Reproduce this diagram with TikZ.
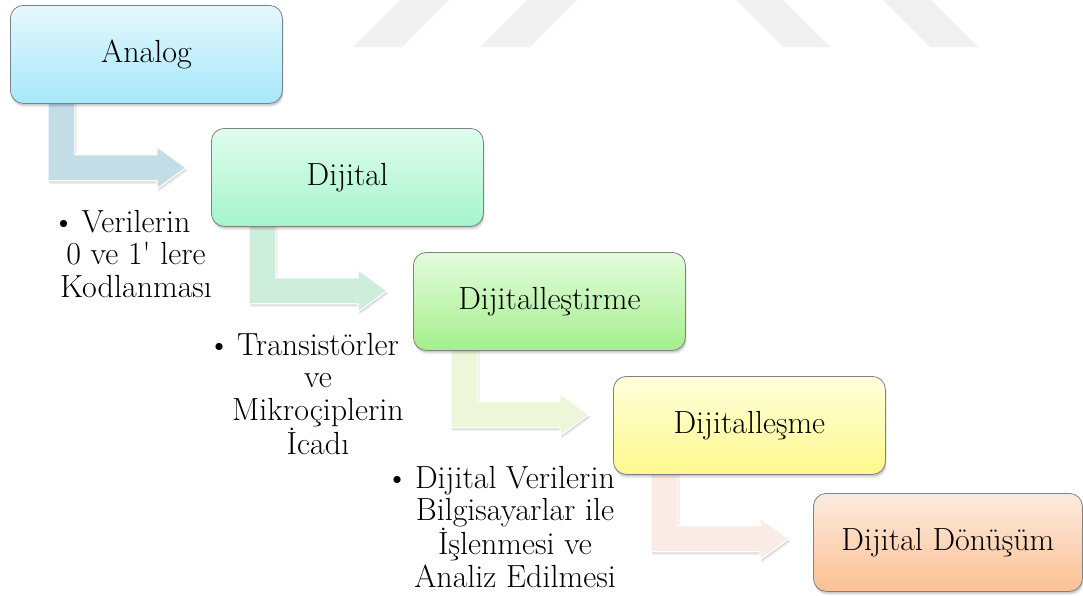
\documentclass[tikz,border=0pt]{standalone}
\usetikzlibrary{calc}

% box fills (top / bottom of each gradient)
\definecolor{aTop}{HTML}{E4F8FD}\definecolor{aBot}{HTML}{A6E8FA}
\definecolor{bTop}{HTML}{E0FDEE}\definecolor{bBot}{HTML}{A4F5CB}
\definecolor{cTop}{HTML}{E3FCDC}\definecolor{cBot}{HTML}{A5EF8C}
\definecolor{dTop}{HTML}{FFFFDD}\definecolor{dBot}{HTML}{FDF98C}
\definecolor{eTop}{HTML}{FDEBDF}\definecolor{eBot}{HTML}{FBC193}
% bent arrow fills
\definecolor{arrA}{HTML}{C4DCE5}
\definecolor{arrB}{HTML}{CCEEDB}
\definecolor{arrC}{HTML}{EEF6DA}
\definecolor{arrD}{HTML}{FBEBE7}
\definecolor{wmgray}{HTML}{F0F0F0}
\definecolor{rimgray}{HTML}{7C8286}

\pgfdeclarelayer{wm}
\pgfdeclarelayer{arrows}
\pgfsetlayers{wm,arrows,main}

\newcommand{\stagefont}{\fontsize{32}{32.5}\selectfont}
\newcommand{\notebullet}{\llap{\textbullet\hspace{0.2em}}}

\tikzset{
  softshadow/.style={
    preaction={fill=black, fill opacity=0.08, draw=none,
      transform canvas={xshift=1.2pt, yshift=-3.8pt}},
    preaction={fill=black, fill opacity=0.14, draw=none,
      transform canvas={xshift=0.8pt, yshift=-2pt}}},
  stepbox/.style={draw=rimgray, line width=0.8pt, rounded corners=13pt,
    minimum width=272pt, minimum height=98pt, anchor=north west,
    inner sep=0pt, font=\stagefont, softshadow},
  bentshape/.style={draw=white, line width=1.2pt, line join=miter,
    preaction={fill=black, fill opacity=0.07, draw=none,
      transform canvas={xshift=1.5pt, yshift=-3pt}},
    preaction={fill=black, fill opacity=0.10, draw=none,
      transform canvas={xshift=0.8pt, yshift=-1.6pt}}},
  notetext/.style={anchor=north, inner sep=0pt, align=center,
    font=\stagefont},
  wmband/.style={fill=wmgray}
}

% bent (L-shaped) arrow leaving the bottom of box #1, filled with #2
\newcommand{\stairarrow}[2]{%
  \begin{pgfonlayer}{arrows}
  \path[bentshape, fill=#2]
    ([shift={(38,-12)}]#1.south west) -- ([shift={(65,-12)}]#1.south west)
    -- ([shift={(65,51)}]#1.south west) -- ([shift={(147,51)}]#1.south west)
    -- ([shift={(147,43)}]#1.south west) -- ([shift={(176,64)}]#1.south west)
    -- ([shift={(147,85)}]#1.south west) -- ([shift={(147,77)}]#1.south west)
    -- ([shift={(38,77)}]#1.south west) -- cycle;
  \end{pgfonlayer}}

\begin{document}
\begin{tikzpicture}[x=1pt,y=-1pt]
\useasboundingbox (0,0) rectangle (1083,595);

% faint bands along the top edge
\begin{pgfonlayer}{wm}
  \fill[white] (0,0) rectangle (1083,595);
  \fill[wmband] (353,47) -- (402,47) -- (449,0) -- (400,0) -- cycle;
  \fill[wmband] (480,47) -- (530,47) -- (577,0) -- (527,0) -- cycle;
  \fill[wmband] (783,47) -- (830,47) -- (783,0) -- (736,0) -- cycle;
  \fill[wmband] (930,47) -- (978,47) -- (931,0) -- (883,0) -- cycle;
\end{pgfonlayer}

% the five stages
\node[stepbox, top color=aTop, bottom color=aBot] (analog) at (10,5) {Analog};
\node[stepbox, top color=bTop, bottom color=bBot] (dijital) at (211,128) {Dijital};
\node[stepbox, top color=cTop, bottom color=cBot] (dtirme) at (413,252) {Dijitalleştirme};
\node[stepbox, top color=dTop, bottom color=dBot] (dlesme) at (613,376) {Dijitalleşme};
\node[stepbox, top color=eTop, bottom color=eBot, minimum width=269pt] (donusum) at (813,493) {Dijital Dönüşüm};

% arrows between stages
\stairarrow{analog}{arrA}
\stairarrow{dijital}{arrB}
\stairarrow{dtirme}{arrC}
\stairarrow{dlesme}{arrD}

% notes under the arrows
\node[notetext] (n1) at (136,210)
  {\notebullet Verilerin\\0 ve 1\textquotesingle{} lere\\Kodlanması};
\node[notetext] (n2) at (318,333)
  {\notebullet Transistörler\\ve\\Mikroçiplerin\\İcadı};
\node[notetext] (n3) at (515,466)
  {\notebullet Dijital Verilerin\\Bilgisayarlar ile\\İşlenmesi ve\\Analiz Edilmesi};
\end{tikzpicture}
\end{document}
